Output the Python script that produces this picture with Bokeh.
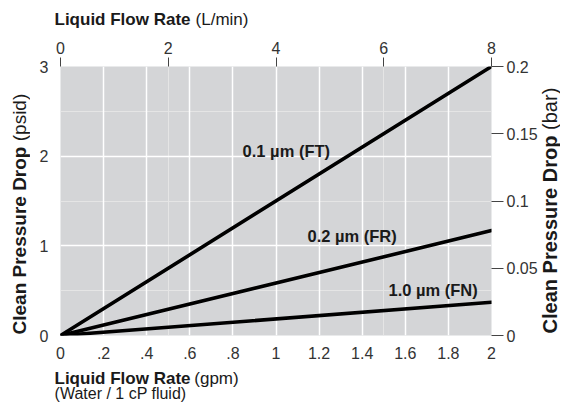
import math
from bokeh.plotting import figure
from bokeh.models import Range1d, LinearAxis, FixedTicker, Label, Grid
from bokeh.layouts import column, row
from bokeh.embed import file_html
from bokeh.resources import INLINE

# ---- data ----
flow_gpm = [0, 2]
ft_psid = [0, 3.0]     # 0.1 um (FT)
fr_psid = [0, 1.17]    # 0.2 um (FR)
fn_psid = [0, 0.37]    # 1.0 um (FN)

gpm_ticks = [0, 0.2, 0.4, 0.6, 0.8, 1, 1.2, 1.4, 1.6, 1.8, 2]
gpm_labels = ["0", ".2", ".4", ".6", ".8", "1", "1.2", "1.4", "1.6", "1.8", "2"]
psid_ticks = [0, 1, 2, 3]
lmin_ticks = [0, 2, 4, 6, 8]
bar_ticks = [0, 0.05, 0.1, 0.15, 0.2]
bar_labels = ["0", "0.05", "0.1", "0.15", "0.2"]

series_names = ["0.1 \u00b5m (FT)", "0.2 \u00b5m (FR)", "1.0 \u00b5m (FN)"]

FONT = "Liberation Sans"
TICK_COLOR = "#333333"
TITLE_COLOR = "#1a1a1a"

# ---- layout sizes (px) ----
W_TOTAL, H_TOP, H_MID, H_BOT = 560, 30, 339, 33
W_LEFT, W_MAIN, W_RIGHT = 30, 510, 20
B_TOP, B_BOT = 36, 34            # borders of the main chart (side strips align to its frame)
H_FRAME = H_MID - B_TOP - B_BOT

# ================= main chart =================
p = figure(width=W_MAIN, height=H_MID, output_backend="svg", toolbar_location=None,
           x_range=Range1d(0, 2), y_range=Range1d(0, 3),
           min_border_left=30, min_border_right=49, min_border_top=B_TOP, min_border_bottom=B_BOT,
           x_axis_location=None, y_axis_location=None)
p.outline_line_color = None
p.background_fill_color = "#d4d5d7"
p.border_fill_color = "white"

p.extra_x_ranges = {"lmin": Range1d(0, 8)}
p.extra_y_ranges = {"bar": Range1d(0, 0.2)}

def style_axis(ax):
    ax.axis_line_color = None
    ax.minor_tick_line_color = None
    ax.minor_tick_out = 0
    ax.minor_tick_in = 0
    ax.major_label_text_font = FONT
    ax.major_label_text_font_size = "16px"
    ax.major_label_text_color = TICK_COLOR
    ax.major_tick_line_color = "#444444"
    ax.major_tick_line_width = 1
    ax.major_tick_in = 0

bottom = LinearAxis(ticker=FixedTicker(ticks=gpm_ticks),
                    major_label_overrides=dict(zip(gpm_ticks, gpm_labels)))
style_axis(bottom)
bottom.major_tick_line_color = None
bottom.major_tick_out = 0
bottom.major_label_standoff = 11
p.add_layout(bottom, "below")

left = LinearAxis(ticker=FixedTicker(ticks=psid_ticks))
style_axis(left)
left.major_tick_line_color = None
left.major_tick_out = 0
left.major_label_standoff = 12
p.add_layout(left, "left")

top = LinearAxis(x_range_name="lmin", ticker=FixedTicker(ticks=lmin_ticks))
style_axis(top)
top.major_tick_out = 9
top.major_label_standoff = 4
p.add_layout(top, "above")

right = LinearAxis(y_range_name="bar", ticker=FixedTicker(ticks=bar_ticks),
                   major_label_overrides=dict(zip(bar_ticks, bar_labels)))
style_axis(right)
right.major_tick_out = 12
right.major_label_standoff = 3
p.add_layout(right, "right")

# interior grid lines only
p.add_layout(Grid(dimension=0, ticker=FixedTicker(ticks=gpm_ticks[1:-1]),
                  grid_line_color="white", grid_line_width=1.5))
p.add_layout(Grid(dimension=1, ticker=FixedTicker(ticks=psid_ticks[1:-1]),
                  grid_line_color="white", grid_line_width=1.5))

for ys in (ft_psid, fr_psid, fn_psid):
    p.line(flow_gpm, ys, line_color="black", line_width=3.6, line_cap="round")

label_pos = [(0.845, 2.055), (1.146, 1.11), (1.522, 0.505)]
for name, (lx, ly) in zip(series_names, label_pos):
    p.add_layout(Label(x=lx, y=ly, text=name, text_font=FONT,
                       text_font_style="bold", text_font_size="16.5px",
                       text_color=TITLE_COLOR, text_baseline="middle", text_align="left"))

# ================= title strips (pixel coordinates, y up) =================
def strip(w, h, y_extent=None):
    s = figure(width=w, height=h, output_backend="svg", toolbar_location=None,
               x_range=Range1d(0, w), y_range=Range1d(0, y_extent or h),
               min_border=0, min_border_left=0, min_border_right=0,
               min_border_top=0, min_border_bottom=0,
               x_axis_location=None, y_axis_location=None)
    s.outline_line_color = None
    s.background_fill_color = "white"
    s.border_fill_color = "white"
    s.grid.visible = False
    return s

def txt(fig, x, y, text, size, bold, angle=0.0):
    # texts are centred on (x, y)
    fig.add_layout(Label(x=x, y=y, text=text, text_font=FONT, text_font_size=size,
                         text_font_style="bold" if bold else "normal",
                         text_color=TITLE_COLOR, text_align="center",
                         text_baseline="middle", angle=angle))

top_strip = strip(W_TOTAL, H_TOP)
txt(top_strip, 122, 11, "Liquid Flow Rate", "17px", True)
txt(top_strip, 221.5, 11, "(L/min)", "17px", False)

bot_strip = strip(W_TOTAL, H_BOT)
txt(bot_strip, 122, 24, "Liquid Flow Rate", "17px", True)
txt(bot_strip, 216, 24, "(gpm)", "17px", False)
txt(bot_strip, 120, 8.6, "(Water / 1 cP fluid)", "16px", False)

# side strips: their frame lines up with the main frame (y in px above the frame bottom)
left_strip = strip(W_LEFT, H_MID, H_FRAME)
txt(left_strip, 19.4, 95, "Clean Pressure Drop", "19px", True, math.pi / 2)
txt(left_strip, 19.4, 218, "(psid)", "19px", False, math.pi / 2)

right_strip = strip(W_RIGHT, H_MID, H_FRAME)
txt(right_strip, 9, 101, "Clean Pressure Drop", "20px", True, math.pi / 2)
txt(right_strip, 9, 226.7, "(bar)", "20px", False, math.pi / 2)

layout = column(top_strip, row(left_strip, p, right_strip, spacing=0), bot_strip, spacing=0)

open("out.html", "w").write(file_html(layout, INLINE))
